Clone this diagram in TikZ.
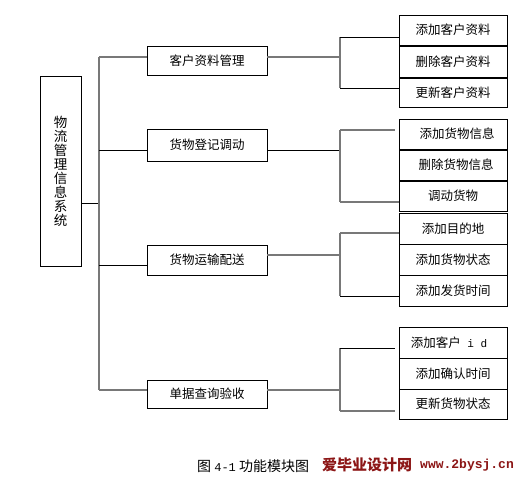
\documentclass[tikz,border=0pt]{standalone}
\usepackage{fontspec}
\newfontfamily\cjk{Noto Sans CJK SC}
\setmainfont{Noto Sans CJK SC}
\setmonofont{Liberation Mono}
\definecolor{wred}{RGB}{140,22,22}
\definecolor{lgray}{RGB}{120,120,120}
\begin{document}
\begin{tikzpicture}[x=1pt,y=-1pt,
  box/.style={draw=black,line width=0.9pt,inner sep=0pt,font=\fontsize{12.5}{14}\selectfont},
  midbox/.style={box,minimum width=120pt},
  leaf/.style={box,minimum width=108pt},
  ln/.style={line width=0.9pt,black},
  gln/.style={line width=1.1pt,lgray}]
\useasboundingbox (0,0) rectangle (529,484);
\fill[white] (0,0) rectangle (529,484);
% root
\node[box,minimum width=41pt,minimum height=190pt,align=center,font=\fontsize{13.5}{14}\selectfont] (root) at (60.5,171) {物\\流\\管\\理\\信\\息\\系\\统};
% level 2
\node[midbox,minimum height=29pt] (b1) at (207,60.5) {客户资料管理};
\node[midbox,minimum height=32pt] (b2) at (207,145) {货物登记调动};
\node[midbox,minimum height=30pt] (b3) at (207,260) {货物运输配送};
\node[midbox,minimum height=28pt] (b4) at (207,394) {单据查询验收};
% leaves
\node[leaf,minimum height=30pt] (l11) at (453,30) {添加客户资料};
\node[leaf,minimum height=31pt] (l12) at (453,61.5) {删除客户资料};
\node[leaf,minimum height=29pt] (l13) at (453,92.5) {更新客户资料};
\node[leaf,minimum height=30pt] (l21) at (453,134) {\hspace*{8pt}添加货物信息};
\node[leaf,minimum height=30pt] (l22) at (453,165) {\hspace*{6pt}删除货物信息};
\node[leaf,minimum height=30pt] (l23) at (453,196) {调动货物};
\node[leaf,minimum height=31pt] (l31) at (453,228.5) {添加目的地};
\node[leaf,minimum height=31pt] (l32) at (453,259.5) {添加货物状态};
\node[leaf,minimum height=31pt] (l33) at (453,290.5) {添加发货时间};
\node[leaf,minimum height=31pt] (l41) at (453,342.5) {添加客户{\ttfamily\fontsize{11}{12}\selectfont\ i d}\hspace*{8pt}};
\node[leaf,minimum height=31pt] (l42) at (453,373.5) {添加确认时间};
\node[leaf,minimum height=30pt] (l43) at (453,404) {更新货物状态};
% trunk
\coordinate (t0) at (99,203);
\coordinate (t1) at (99,57);
\coordinate (t2) at (99,150);
\coordinate (t3) at (99,265);
\coordinate (t4) at (99,390);
\draw[ln] (root.east |- t0) -- (t0);
\draw[gln] (t1) -- (t4);
\draw[gln] (t1) -- (b1.west |- t1);
\draw[ln] (t2) -- (b2.west |- t2);
\draw[ln] (t3) -- (b3.west |- t3);
\draw[gln] (t4) -- (b4.west |- t4);
% group 1
\coordinate (g1) at (340,57);
\coordinate (g1a) at (340,37);
\coordinate (g1b) at (340,88);
\draw[gln] (b1.east |- g1) -- (g1);
\draw[gln] (g1a) -- (g1b);
\draw[ln] (g1a) -- (l11.west |- g1a);
\draw[ln] (g1b) -- (l13.west |- g1b);
% group 2
\coordinate (g2) at (340,150);
\coordinate (g2a) at (340,130);
\coordinate (g2b) at (340,202);
\draw[ln] (b2.east |- g2) -- (g2);
\draw[gln] (g2a) -- (g2b);
\draw[gln] (g2a) -- ([xshift=-4pt]l21.west |- g2a);
\draw[gln] (g2b) -- (l23.west |- g2b);
% group 3
\coordinate (g3) at (340,255);
\coordinate (g3a) at (340,233);
\coordinate (g3b) at (340,296);
\draw[gln] (b3.east |- g3) -- (g3);
\draw[gln] (g3a) -- (g3b);
\draw[gln] (g3a) -- (l31.west |- g3a);
\draw[ln] (g3b) -- (l33.west |- g3b);
% group 4
\coordinate (g4) at (340,390);
\coordinate (g4a) at (340,348);
\coordinate (g4b) at (340,411);
\draw[gln] (b4.east |- g4) -- (g4);
\draw[gln] (g4a) -- (g4b);
\draw[ln] (g4a) -- ([xshift=-4pt]l41.west |- g4a);
\draw[gln] (g4b) -- ([xshift=-4pt]l43.west |- g4b);
% caption
\node[inner sep=0pt,anchor=west,font=\fontsize{14}{16}\selectfont] (cap) at (197,466) {图 {\ttfamily\fontsize{12}{14}\selectfont 4-1} 功能模块图};
\node[inner sep=0pt,anchor=west,text=wred,font=\fontsize{15}{16}\selectfont\bfseries] (site) at (322,465) {爱毕业设计网};
\node[inner sep=0pt,anchor=west,text=wred,font=\fontsize{13}{14}\selectfont\ttfamily\bfseries] (url) at (420,465) {www.2bysj.cn};
\end{tikzpicture}
\end{document}
